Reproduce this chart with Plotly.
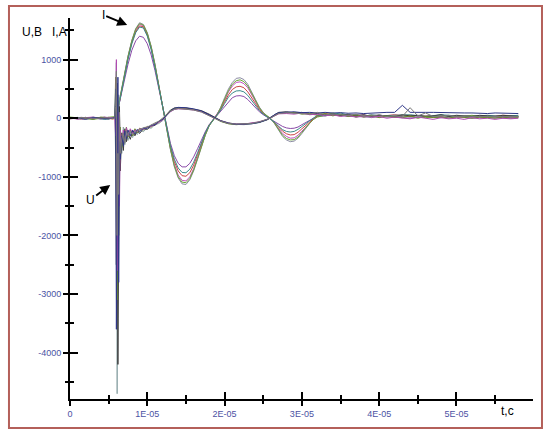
import plotly.graph_objects as go

# ---------------- data (time in microseconds) ----------------
T_I = [0, 1.5, 3, 4.5, 5.5,
       6.0, 6.5, 7.0, 7.5, 8.0, 8.5, 9.0, 9.5, 10.0, 10.5, 11.0, 11.5, 12.0, 12.5, 13.0, 13.5,
       14.0, 14.5, 15.0, 15.5, 16.0, 16.5, 17.0, 17.5, 18.0, 18.5, 19.0, 19.5, 20.0, 20.5, 21.0,
       21.5, 22.0, 22.5, 23.0, 23.5, 24.0, 24.5, 25.0, 25.5, 26.0, 26.5, 27.0, 27.5, 28.0, 28.5,
       29.0, 29.5, 30.0, 30.5, 31.0, 31.5,
       32, 33, 34, 35, 36, 37, 38, 39, 40, 42, 44, 46, 48, 50, 52, 54, 56, 58]

I1 = [10, -20, 15, -10, 10,
      20, 380, 740, 1060, 1330, 1530, 1630, 1600, 1460, 1230, 920, 560, 180, -200, -540, -830,
      -1020, -1120, -1130, -1050, -900, -700, -490, -290, -130, -20, 60, 190, 350, 500, 610,
      680, 690, 660, 580, 460, 320, 190, 100, 40, -10, -100, -210, -310, -370, -400,
      -390, -340, -260, -170, -90, -20,
      30, 70, 80, 60, 40, 20, 30, 10, 30, 20, 0, 20, 10, 20, 0, 10, 0, 10]
I2 = [0, 15, -10, 20, -5,
      20, 330, 640, 920, 1160, 1320, 1400, 1380, 1270, 1080, 810, 490, 150, -170, -430, -640,
      -770, -830, -830, -770, -660, -520, -370, -230, -110, -30, 40, 120, 210, 290, 350,
      380, 385, 370, 320, 250, 180, 110, 60, 20, -10, -50, -100, -140, -165, -175,
      -170, -150, -110, -70, -30, 0,
      30, 50, 60, 50, 30, 40, 20, 30, 20, 40, 20, 30, 10, 30, 20, 20, 10, 20]
I3 = [-10, 10, 20, -15, 5,
      0, 360, 720, 1040, 1310, 1500, 1600, 1580, 1440, 1210, 900, 540, 170, -200, -520, -790,
      -970, -1060, -1070, -1000, -860, -670, -470, -280, -130, -30, 50, 170, 310, 450, 550,
      610, 620, 590, 520, 410, 290, 170, 90, 30, -10, -90, -180, -260, -310, -340,
      -335, -290, -220, -150, -80, -20,
      40, 60, 50, 70, 30, 40, 60, 20, 40, 30, 50, 20, 30, 10, 30, 20, 30, 20]
I4 = [5, -10, 0, 15, -15,
      10, 350, 700, 1020, 1290, 1480, 1575, 1560, 1420, 1190, 880, 530, 160, -190, -490, -740,
      -900, -980, -990, -930, -800, -620, -440, -260, -120, -30, 50, 150, 280, 400, 490,
      535, 545, 520, 450, 360, 250, 150, 80, 30, -10, -80, -160, -220, -265, -285,
      -280, -240, -180, -120, -60, -10,
      40, 80, 60, 40, 60, 30, 40, 50, 30, 60, 30, 40, 50, 30, 40, 30, 50, 40]
I5 = [20, 0, -20, 10, 15,
      30, 370, 730, 1050, 1320, 1520, 1615, 1590, 1450, 1220, 910, 550, 170, -200, -530, -810,
      -1000, -1090, -1100, -1030, -880, -690, -480, -290, -130, -30, 50, 180, 330, 470, 580,
      640, 655, 625, 550, 430, 300, 180, 90, 35, -10, -95, -195, -290, -345, -370,
      -365, -320, -240, -160, -85, -20,
      20, 50, 90, 50, 70, 20, 50, 30, 50, 20, 40, 10, 40, 20, 50, 10, 40, 30]
I6 = [-5, 10, 5, -20, 0,
      0, 340, 690, 1000, 1270, 1460, 1555, 1540, 1400, 1170, 860, 520, 150, -180, -470, -700,
      -850, -925, -930, -870, -750, -590, -420, -250, -120, -30, 45, 140, 250, 360, 430,
      465, 470, 450, 390, 310, 220, 130, 70, 25, -10, -70, -140, -195, -225, -235,
      -225, -190, -140, -90, -40, 0,
      50, 40, 70, 90, 50, 60, 30, 60, 40, 50, 60, 30, 60, 40, 30, 50, 30, 50]

T_U = [0, 1, 2, 3, 4, 5, 5.8,
       5.9, 6.0, 6.1, 6.2, 6.3, 6.4, 6.5,
       6.7, 6.9, 7.1, 7.3, 7.5,
       7.8, 8.1, 8.4, 8.7, 9.0,
       9.5, 10, 10.5, 11, 11.5, 12, 12.5, 13, 13.5, 14,
       15, 16, 17, 18, 18.8,
       19.5, 20.5, 21.5, 22.5, 23.5, 24.5, 25.5,
       26, 26.5, 27,
       28, 29, 30, 31, 32, 33, 34, 35, 36, 37, 38, 39, 40, 41, 42, 43,
       44, 45, 46, 47, 48, 49, 50, 51, 52, 53, 54, 55, 56, 57, 58]

U1 = [0, 15, -10, 20, -15, 10, 0,
      -600, 950, -4700, -1800, 400, -1200, -300,
      -600, -150, -450, -200, -380,
      -240, -330, -220, -280, -200,
      -230, -160, -170, -110, -90, -40, 40, 120, 160, 170,
      165, 150, 120, 60, 0,
      -50, -90, -105, -110, -95, -75, -30,
      10, 60, 90,
      100, 95, 80, 90, 60, 70, 50, 60, 40, 50, 30, 60, 40, 20, 50, 30,
      60, 20, 40, 30, 50, 20, 40, 30, 20, 40, 30, 20, 40, 30, 20]
U2 = [10, -10, 15, -5, 10, -10, 10,
      300, -2500, 600, -4200, -800, 200, -900,
      -250, -550, -180, -400, -250,
      -360, -220, -300, -200, -260,
      -180, -190, -130, -120, -60, -20, 60, 140, 175, 180,
      175, 155, 130, 70, 10,
      -40, -80, -100, -100, -90, -70, -20,
      20, 70, 100,
      110, 90, 100, 70, 80, 60, 70, 50, 60, 40, 60, 30, 50, 40, 30, 60,
      40, 50, 30, 40, 60, 30, 50, 40, 30, 50, 40, 30, 50, 40, 30]
U3 = [-10, 10, 0, -15, 20, 0, -10,
      700, -1200, -3100, 300, -2000, -500, -150,
      -500, -300, -350, -150, -320,
      -200, -300, -180, -250, -170,
      -200, -140, -150, -90, -70, -10, 70, 130, 165, 175,
      160, 145, 115, 55, -5,
      -55, -95, -110, -105, -90, -65, -25,
      15, 55, 80,
      90, 100, 70, 80, 50, 80, 40, 70, 30, 60, 20, 50, 10, 40, 20, 10,
      40, 0, 30, 10, 20, 0, 30, 10, 0, 20, 10, 0, 20, 0, 10]
U4 = [5, -15, 10, 5, -10, 15, 0,
      -300, 1000, -2600, -900, 100, -1500, -200,
      -420, -200, -380, -160, -300,
      -180, -260, -200, -230, -180,
      -190, -150, -140, -100, -60, -30, 50, 110, 150, 160,
      155, 140, 110, 50, 0,
      -45, -85, -100, -100, -85, -60, -20,
      10, 50, 75,
      80, 70, 90, 60, 70, 40, 60, 30, 50, 20, 40, 20, 30, 0, 20, 10,
      -10, 20, 0, -20, 10, -10, 0, -20, 10, -10, 0, -20, 0, -10, 0]
U5 = [0, 10, -20, 10, 0, -10, 5,
      500, -3600, -1000, 700, -2800, -400, -700,
      -300, -480, -220, -350, -200,
      -300, -200, -270, -190, -230,
      -170, -170, -120, -110, -50, -20, 55, 125, 170, 185,
      180, 160, 125, 65, 5,
      -45, -85, -105, -105, -95, -70, -25,
      15, 65, 95,
      105, 110, 95, 100, 90, 100, 90, 95, 85, 90, 80, 90, 95, 100, 100, 220,
      100, 95, 100, 100, 95, 100, 95, 90, 90, 85, 80, 90, 85, 80, 80]
U6 = [-5, 5, 10, -10, 5, 5, -5,
      200, 800, -2000, -600, -1300, 100, -600,
      -350, -250, -420, -220, -290,
      -230, -280, -240, -210, -200,
      -160, -150, -110, -80, -50, 0, 60, 120, 150, 165,
      150, 140, 105, 45, -5,
      -50, -90, -100, -95, -90, -60, -25,
      5, 45, 80,
      95, 85, 75, 70, 100, 60, 70, 60, 50, 70, 40, 40, 60, 30, 40, 30,
      180, 40, 90, 30, 40, 50, 30, 40, 30, 30, 20, 30, 30, 20, 30]

X_TICKS = [0, 10, 20, 30, 40, 50]
X_TICK_TEXT = ["0", "1E-05", "2E-05", "3E-05", "4E-05", "5E-05"]
X_MINOR = [5, 15, 25, 35, 45, 55]
Y_TICKS = [-4000, -3000, -2000, -1000, 0, 1000]
Y_TICK_TEXT = ["-4000", "-3000", "-2000", "-1000", "0", "1000"]
Y_MINOR = [-4500, -3500, -2500, -1500, -500, 500, 1500]

I_SERIES = [(I1, "#8c8ca4"), (I2, "#8a4aa8"), (I3, "#c24ec0"),
            (I4, "#cc4444"), (I5, "#6aa838"), (I6, "#3a8a8a")]
U_SERIES = [(U1, "#8fa6a8"), (U2, "#3c3c3c"), (U3, "#6a8a2a"),
            (U4, "#b04ab0"), (U5, "#2e3688"), (U6, "#7a7a7a")]

X_RANGE = [0, 59.9]
Y_RANGE = [-4790, 1710]

# ---------------- figure ----------------
fig = go.Figure()
for vals, col in I_SERIES:
    fig.add_trace(go.Scatter(x=T_I, y=vals, mode="lines",
                             line=dict(color=col, width=1), showlegend=False,
                             hoverinfo="skip"))
for vals, col in U_SERIES:
    fig.add_trace(go.Scatter(x=T_U, y=vals, mode="lines",
                             line=dict(color=col, width=1), showlegend=False,
                             hoverinfo="skip"))
# helper empty trace for overlay axes (inner half of crossing ticks)
fig.add_trace(go.Scatter(x=[], y=[], xaxis="x2", yaxis="y2", showlegend=False))

tick_font = dict(family="Liberation Sans, Arial, sans-serif", size=9, color="#4b52a3")

fig.update_layout(
    width=544, height=432,
    margin=dict(l=70, r=11, t=18, b=33),
    paper_bgcolor="white", plot_bgcolor="white",
    font=dict(family="Liberation Sans, Arial, sans-serif"),
    xaxis=dict(range=X_RANGE, showgrid=False, zeroline=False,
               showline=True, linecolor="black", linewidth=2,
               tickmode="array", tickvals=X_TICKS, ticktext=X_TICK_TEXT,
               ticks="outside", ticklen=5, tickwidth=2, tickcolor="black",
               tickfont=tick_font,
               minor=dict(tickvals=X_MINOR, ticks="outside", ticklen=3,
                          tickwidth=2, tickcolor="black", showgrid=False)),
    yaxis=dict(range=Y_RANGE, showgrid=False, zeroline=False,
               showline=True, linecolor="black", linewidth=2,
               tickmode="array", tickvals=Y_TICKS, ticktext=Y_TICK_TEXT,
               ticks="outside", ticklen=5, tickwidth=2, tickcolor="black",
               tickfont=tick_font,
               minor=dict(tickvals=Y_MINOR, ticks="outside", ticklen=3,
                          tickwidth=2, tickcolor="black", showgrid=False)),
    xaxis2=dict(range=X_RANGE, overlaying="x", anchor="y", side="bottom",
                showgrid=False, zeroline=False, showline=False,
                tickmode="array", tickvals=X_TICKS, showticklabels=False,
                ticks="inside", ticklen=7, tickwidth=2, tickcolor="black",
                minor=dict(tickvals=X_MINOR, ticks="inside", ticklen=4,
                           tickwidth=2, tickcolor="black", showgrid=False)),
    yaxis2=dict(range=Y_RANGE, overlaying="y", anchor="x", side="left",
                showgrid=False, zeroline=False, showline=False,
                tickmode="array", tickvals=Y_TICKS, showticklabels=False,
                ticks="inside", ticklen=8, tickwidth=2, tickcolor="black",
                minor=dict(tickvals=Y_MINOR, ticks="inside", ticklen=4,
                           tickwidth=2, tickcolor="black", showgrid=False)),
    shapes=[dict(type="rect", xref="paper", yref="paper",
                 x0=-0.1318, x1=1.0194, y0=-0.0761, y1=1.0315,
                 line=dict(color="#b4605a", width=2), fillcolor="rgba(0,0,0,0)",
                 layer="above")],
    annotations=[
        dict(text="U,B   I,A", xref="paper", yref="paper", x=-0.002, y=0.963,
             xanchor="right", yanchor="middle", showarrow=False,
             font=dict(size=12, color="black")),
        dict(text="t,c", xref="paper", yref="paper", x=0.946, y=-0.031,
             xanchor="center", yanchor="middle", showarrow=False,
             font=dict(size=12, color="black")),
        dict(text="I", x=7.4, y=1592, xref="x", yref="y", ax=-24, ay=-10,
             showarrow=True, arrowhead=2, arrowsize=1, arrowwidth=2,
             arrowcolor="black", font=dict(size=12, color="black")),
        dict(text="U", x=5.2, y=-1138, xref="x", yref="y", ax=-20, ay=15,
             showarrow=True, arrowhead=2, arrowsize=1, arrowwidth=2,
             arrowcolor="black", font=dict(size=12, color="black")),
    ],
)

fig.write_html("out.html")
